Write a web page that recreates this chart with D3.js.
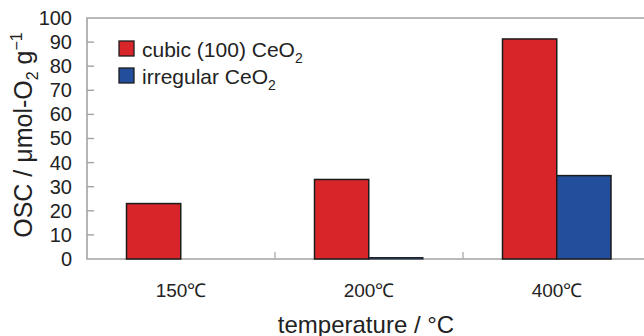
<!DOCTYPE html>
<html>
<head>
<meta charset="utf-8">
<script src="https://cdn.jsdelivr.net/npm/d3@7/dist/d3.min.js"></script>
<style>
  html, body { margin: 0; padding: 0; background: #fff; }
  svg { display: block; font-family: "Liberation Sans", Arial, Helvetica, sans-serif; }
</style>
</head>
<body>
<svg id="chart" width="644" height="336"></svg>
<script>
// Oxygen storage capacity by temperature for two ceria morphologies
const temperatures = ["150℃", "200℃", "400℃"];
const seriesNames = ["cubic (100) CeO", "irregular CeO"];
const cubicValues = [23, 33, 91.3];
const irregularValues = [0, 0.6, 34.6];
const yTicks = [0, 10, 20, 30, 40, 50, 60, 70, 80, 90, 100];
const seriesColors = ["#d7252a", "#224e9b"];

const svg = d3.select("#chart");
const plotLeft = 87, plotTop = 18, plotBottom = 259, plotRight = 651;

const x0 = d3.scaleBand().domain(temperatures).range([plotLeft, plotRight]).padding(0);
const x1 = d3.scaleBand().domain(seriesNames).range([39.5, 148]).padding(0);
const y = d3.scaleLinear().domain([0, 100]).range([plotBottom, plotTop]);

const rows = temperatures.map((t, i) => ({
  t, values: [cubicValues[i], irregularValues[i]]
}));

// frame: left, top and baseline
const frame = svg.append("g").attr("stroke", "#a3a3a3").attr("stroke-width", 1.6).attr("fill", "none");
frame.append("path").attr("d", `M${plotRight},${plotTop}H${plotLeft}V${plotBottom}H${plotRight}`);

// y axis ticks (inward) and labels
const yAxis = d3.axisLeft(y).tickValues(yTicks).tickSize(0).tickPadding(15);
const gy = svg.append("g").attr("transform", `translate(${plotLeft},0)`).call(yAxis);
gy.select(".domain").remove();
gy.selectAll("text").attr("font-size", 20).attr("fill", "#222");
svg.append("g").selectAll("line").data(yTicks.filter(v => v > 0 && v < 100)).join("line")
  .attr("x1", plotLeft).attr("x2", plotLeft + 7)
  .attr("y1", d => y(d)).attr("y2", d => y(d))
  .attr("stroke", "#a3a3a3").attr("stroke-width", 1.4);

// category dividers on the baseline
svg.append("g").selectAll("line").data(temperatures.slice(1)).join("line")
  .attr("x1", d => x0(d)).attr("x2", d => x0(d))
  .attr("y1", plotBottom).attr("y2", plotBottom - 7)
  .attr("stroke", "#b0b0b0").attr("stroke-width", 1.4);

// x axis labels
const xAxis = d3.axisBottom(x0).tickSize(0).tickPadding(25);
const gx = svg.append("g").attr("transform", `translate(0,${plotBottom})`).call(xAxis);
gx.select(".domain").remove();
gx.selectAll("text").attr("font-size", 19).attr("fill", "#222");

// bars
const groups = svg.append("g").selectAll("g").data(rows).join("g")
  .attr("transform", d => `translate(${x0(d.t)},0)`);
groups.selectAll("rect").data(d => d.values.map((v, i) => ({ v, i })).filter(e => e.v > 0)).join("rect")
  .attr("x", e => x1(seriesNames[e.i]))
  .attr("width", x1.bandwidth())
  .attr("y", e => y(e.v))
  .attr("height", e => y(0) - y(e.v))
  .attr("fill", e => seriesColors[e.i])
  .attr("stroke", "#1c1c1c").attr("stroke-width", e => e.v < 2 ? 1 : 1.5);

// legend
const legend = svg.append("g");
seriesNames.forEach((name, i) => {
  const ly = 41 + i * 27;
  legend.append("rect").attr("x", 119).attr("y", ly).attr("width", 15).attr("height", 15)
    .attr("fill", seriesColors[i]).attr("stroke", "#1c1c1c").attr("stroke-width", 1.3);
  const t = legend.append("text").attr("x", 142).attr("y", ly + 16).attr("font-size", 21).attr("fill", "#222");
  t.append("tspan").text(name);
  t.append("tspan").attr("dy", 6).attr("font-size", 14).text("2");
});

// axis titles
svg.append("text").attr("x", 366).attr("y", 333).attr("text-anchor", "middle")
  .attr("font-size", 24).attr("fill", "#222").text("temperature / °C");

const yt = svg.append("text").attr("transform", "translate(32,135) rotate(-90)")
  .attr("text-anchor", "middle").attr("font-size", 25).attr("fill", "#222");
yt.append("tspan").text("OSC / μmol-O");
yt.append("tspan").attr("dy", 6).attr("font-size", 16).text("2");
yt.append("tspan").attr("dy", -6).text(" g");
yt.append("tspan").attr("dy", -10).attr("font-size", 16).text("−1");
</script>
</body>
</html>
